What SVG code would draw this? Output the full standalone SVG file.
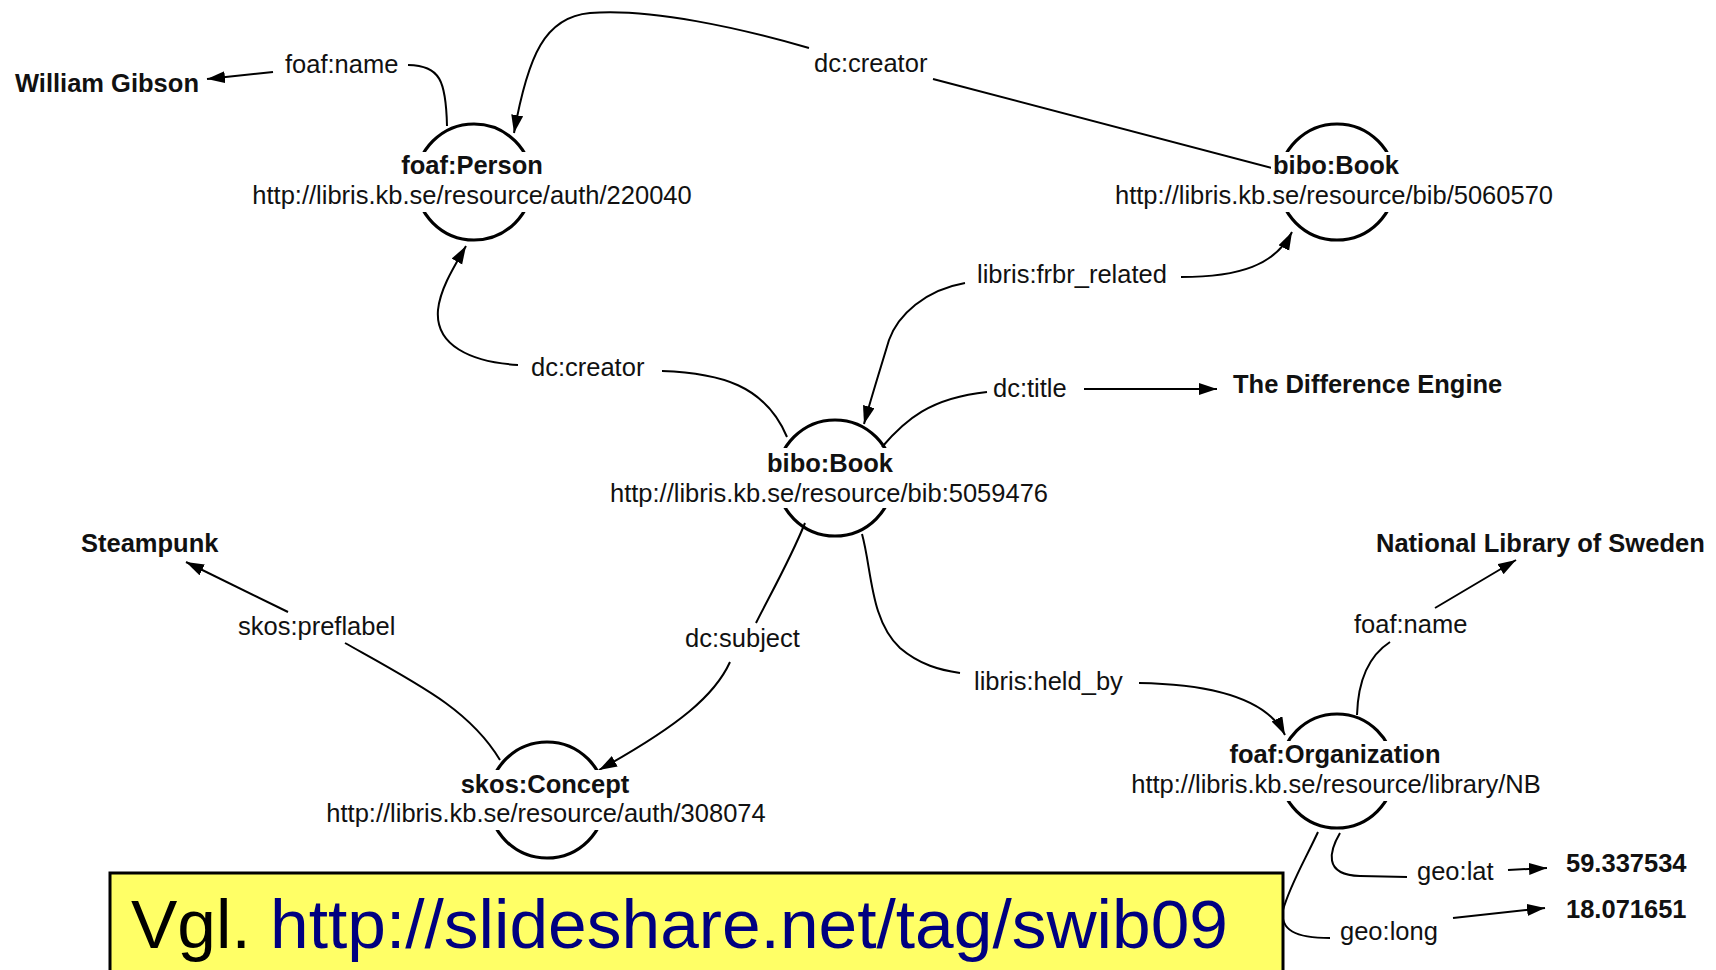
<svg xmlns="http://www.w3.org/2000/svg" width="1716" height="970" viewBox="0 0 1716 970">
<defs>
<marker id="ah" markerUnits="userSpaceOnUse" markerWidth="20" markerHeight="14" refX="18" refY="6" orient="auto">
<path d="M0,0 L18,6 L0,12 z" fill="#000"/>
</marker>
<style>
.c{fill:none;stroke:#000;stroke-width:2}
.a{marker-end:url(#ah)}
.ring{fill:none;stroke:#000;stroke-width:3.2}
.bg{fill:#fff}
.t{font-family:"Liberation Sans",Arial,sans-serif;font-size:25.5px;fill:#111}
.b{font-weight:bold}
.m{text-anchor:middle}
</style>
</defs>
<rect width="1716" height="970" fill="#fff"/>

<g id="connectors">
<path class="c a" d="M273 72 L207 79"/>
<path class="c" d="M408 65 C440 66 446 80 447 126"/>
<path class="c" d="M1272 168 L933 79"/>
<path class="c a" d="M809 48 C740 28 650 8 590 13 C545 17 528 55 514 133"/>
<path class="c" d="M662 371 C720 373 765 385 787 437"/>
<path class="c a" d="M518 365 C470 362 435 345 438 310 C440 290 452 270 466 246"/>
<path class="c a" d="M1181 277 C1240 277 1275 265 1292 232"/>
<path class="c a" d="M965 283 C925 290 898 315 889 340 C880 370 872 395 864 424"/>
<path class="c" d="M882 447 C905 420 930 398 987 392"/>
<path class="c a" d="M1084 389 L1217 389"/>
<path class="c" d="M805 523 C790 560 770 595 756 623"/>
<path class="c a" d="M730 662 C715 695 680 725 599 770"/>
<path class="c" d="M862 534 C872 570 870 620 900 648 C920 665 940 670 960 673"/>
<path class="c a" d="M1139 683 C1200 684 1265 695 1285 735"/>
<path class="c" d="M1357 715 C1358 680 1370 655 1390 642"/>
<path class="c a" d="M1435 608 L1516 560"/>
<path class="c" d="M1340 833 C1330 850 1322 875 1360 876 L1407 877"/>
<path class="c a" d="M1508 870 L1547 868"/>
<path class="c" d="M1318 832 C1305 860 1290 885 1283 910 C1280 930 1295 938 1330 938"/>
<path class="c a" d="M1453 918 L1545 908"/>
<path class="c" d="M345 643 C420 685 470 710 500 760"/>
<path class="c a" d="M288 612 L186 562"/>
</g>

<g id="n-person">
<circle class="ring" cx="474" cy="182" r="58"/>
<rect class="bg" x="399" y="152" width="148" height="30"/>
<rect class="bg" x="249" y="182" width="448" height="30"/>
<text class="t b m" x="472" y="174">foaf:Person</text>
<text class="t m" x="472" y="204">http://libris.kb.se/resource/auth/220040</text>
</g>

<g id="n-book2">
<circle class="ring" cx="1337" cy="182" r="58"/>
<rect class="bg" x="1271" y="152" width="132" height="30"/>
<rect class="bg" x="1112" y="182" width="446" height="30"/>
<text class="t b m" x="1336" y="174">bibo:Book</text>
<text class="t m" x="1334" y="204">http://libris.kb.se/resource/bib/5060570</text>
</g>

<g id="n-book1">
<circle class="ring" cx="835" cy="478" r="58"/>
<rect class="bg" x="765" y="448" width="132" height="30"/>
<rect class="bg" x="606" y="478" width="448" height="30"/>
<text class="t b m" x="830" y="472">bibo:Book</text>
<text class="t m" x="829" y="502">http://libris.kb.se/resource/bib:5059476</text>
</g>

<g id="n-concept">
<circle class="ring" cx="547" cy="800" r="58"/>
<rect class="bg" x="458" y="770" width="176" height="30"/>
<rect class="bg" x="323" y="800" width="448" height="30"/>
<text class="t b m" x="545" y="793">skos:Concept</text>
<text class="t m" x="546" y="822">http://libris.kb.se/resource/auth/308074</text>
</g>

<g id="n-org">
<circle class="ring" cx="1337" cy="771" r="57"/>
<rect class="bg" x="1227" y="741" width="218" height="30"/>
<rect class="bg" x="1126" y="771" width="420" height="30"/>
<text class="t b m" x="1335" y="763">foaf:Organization</text>
<text class="t m" x="1336" y="793">http://libris.kb.se/resource/library/NB</text>
</g>

<g id="literals">
<text class="t b" x="15" y="92">William Gibson</text>
<text class="t b" x="1233" y="393">The Difference Engine</text>
<text class="t b" x="81" y="552">Steampunk</text>
<text class="t b" x="1376" y="552">National Library of Sweden</text>
<text class="t b" x="1566" y="872">59.337534</text>
<text class="t b" x="1566" y="918">18.071651</text>
</g>

<g id="edge-labels">
<text class="t" x="285" y="73">foaf:name</text>
<text class="t" x="814" y="72">dc:creator</text>
<text class="t" x="977" y="283">libris:frbr_related</text>
<text class="t" x="531" y="376">dc:creator</text>
<text class="t" x="993" y="397">dc:title</text>
<text class="t" x="238" y="635">skos:preflabel</text>
<text class="t" x="685" y="647">dc:subject</text>
<text class="t" x="1354" y="633">foaf:name</text>
<text class="t" x="974" y="690">libris:held_by</text>
<text class="t" x="1417" y="880">geo:lat</text>
<text class="t" x="1340" y="940">geo:long</text>
</g>

<g id="note">
<rect x="110" y="873" width="1173" height="110" fill="#ffff66" stroke="#000" stroke-width="3"/>
<text x="131" y="948" font-family="Liberation Sans, Arial, sans-serif" font-size="68" textLength="1097" lengthAdjust="spacingAndGlyphs" fill="#000">Vgl. <tspan fill="#000080">http://slideshare.net/tag/swib09</tspan></text>
</g>
</svg>
